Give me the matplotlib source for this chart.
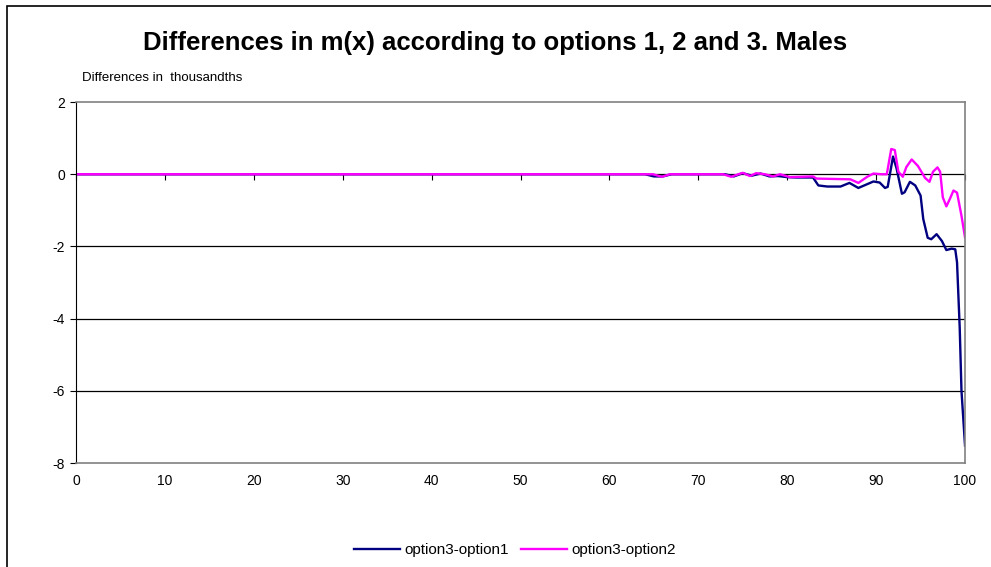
import matplotlib.pyplot as plt
import numpy as np

plt.rcParams['font.family'] = ['Liberation Sans', 'DejaVu Sans']
plt.rcParams['axes.unicode_minus'] = False

# ages where the differences are non-zero
age1 = [0, 64, 65, 66, 67, 73, 74, 75, 76, 77, 78, 79, 80, 81, 82.9, 83.5, 84.5, 86, 87, 88, 89.7,
        90.4, 91.0, 91.3, 91.9, 92.3, 92.9, 93.2, 93.8, 94.4, 95.0, 95.3, 95.8, 96.2, 96.8,
        97.4, 97.9, 98.5, 98.9, 99.1, 99.4, 99.6, 100]
diff31 = [0, 0, -0.06, -0.06, 0, 0, -0.06, 0.03, -0.04, 0.02, -0.06, -0.05, -0.08, -0.09, -0.09,
          -0.31, -0.34, -0.34, -0.24, -0.38, -0.2, -0.23, -0.38, -0.35, 0.49, 0.16, -0.54, -0.5,
          -0.21, -0.31, -0.59, -1.24, -1.76, -1.8, -1.66, -1.85, -2.1, -2.06, -2.08, -2.44,
          -4.25, -6.0, -7.52]

age2 = [0, 64.9, 65.9, 66.8, 72.8, 73.7, 74.5, 75.0, 75.8, 76.5, 77.5, 78.4, 79.2, 80.3, 82.9,
        83.3, 87.1, 88.0, 89.0, 89.7, 90.6, 91.2, 91.7, 92.1, 92.5, 93.0, 93.4, 94.0, 94.7,
        95.5, 96.0, 96.4, 96.9, 97.2, 97.5, 97.9, 98.3, 98.7, 99.1, 99.6, 100]
diff32 = [0, 0, -0.07, 0, 0, -0.07, 0, 0.04, -0.05, 0.03, 0, -0.06, 0, -0.08, -0.06,
          -0.12, -0.14, -0.24, -0.07, 0.02, 0, 0.0, 0.7, 0.67, 0.07, -0.07, 0.2, 0.41, 0.23,
          -0.1, -0.21, 0.07, 0.19, 0.07, -0.64, -0.89, -0.68, -0.45, -0.51, -1.15, -1.75]

fig = plt.figure(figsize=(9.91, 5.67), dpi=100)
ax = fig.add_axes([0.0767, 0.1834, 0.8971, 0.6366])

# frame round the whole chart
fig.patches.append(plt.Rectangle((0.007, -0.1), 1.1, 1.089, transform=fig.transFigure,
                                 fill=False, edgecolor='black', linewidth=1.2))

ax.plot(age1, diff31, color='#000080', linewidth=1.7, label='option3-option1')
ax.plot(age2, diff32, color='#ff00ff', linewidth=1.7, label='option3-option2')

ax.set_xlim(0, 100)
ax.set_ylim(-8, 2)
ax.set_yticks(np.arange(-8, 3, 2))
ax.set_xticks(np.arange(0, 101, 10))
for yv in [-6, -4, -2, 0]:
    ax.axhline(yv, color='black', linewidth=0.9, zorder=1)

for s in ['top', 'right', 'bottom']:
    ax.spines[s].set_color('#808080')
    ax.spines[s].set_linewidth(1.2)
ax.spines['left'].set_color('black')
ax.tick_params(axis='y', labelsize=10, length=4, width=0.8, pad=4)
ax.tick_params(axis='x', labelsize=10, length=0, pad=8)

# tick marks of the category axis sit on the zero line
sec = ax.secondary_xaxis(0.8)
sec.set_xticks(np.arange(0, 101, 10))
sec.set_xticklabels([])
sec.xaxis.set_ticks_position('bottom')
sec.tick_params(axis='x', length=4, width=0.8, direction='out')
sec.spines['bottom'].set_visible(False)
sec.spines['top'].set_visible(False)

fig.text(0.5, 0.925, 'Differences in m(x) according to options 1, 2 and 3. Males',
         ha='center', va='center', fontsize=18.5, fontweight='bold')
fig.text(0.083, 0.862, 'Differences in  thousandths', ha='left', va='center', fontsize=9.5)

fig.legend(loc='center', bbox_to_anchor=(0.52, 0.03), ncol=2, frameon=False, fontsize=11,
           handlelength=3, columnspacing=0.8, handletextpad=0.3)

fig.savefig('out.png', dpi=100)
